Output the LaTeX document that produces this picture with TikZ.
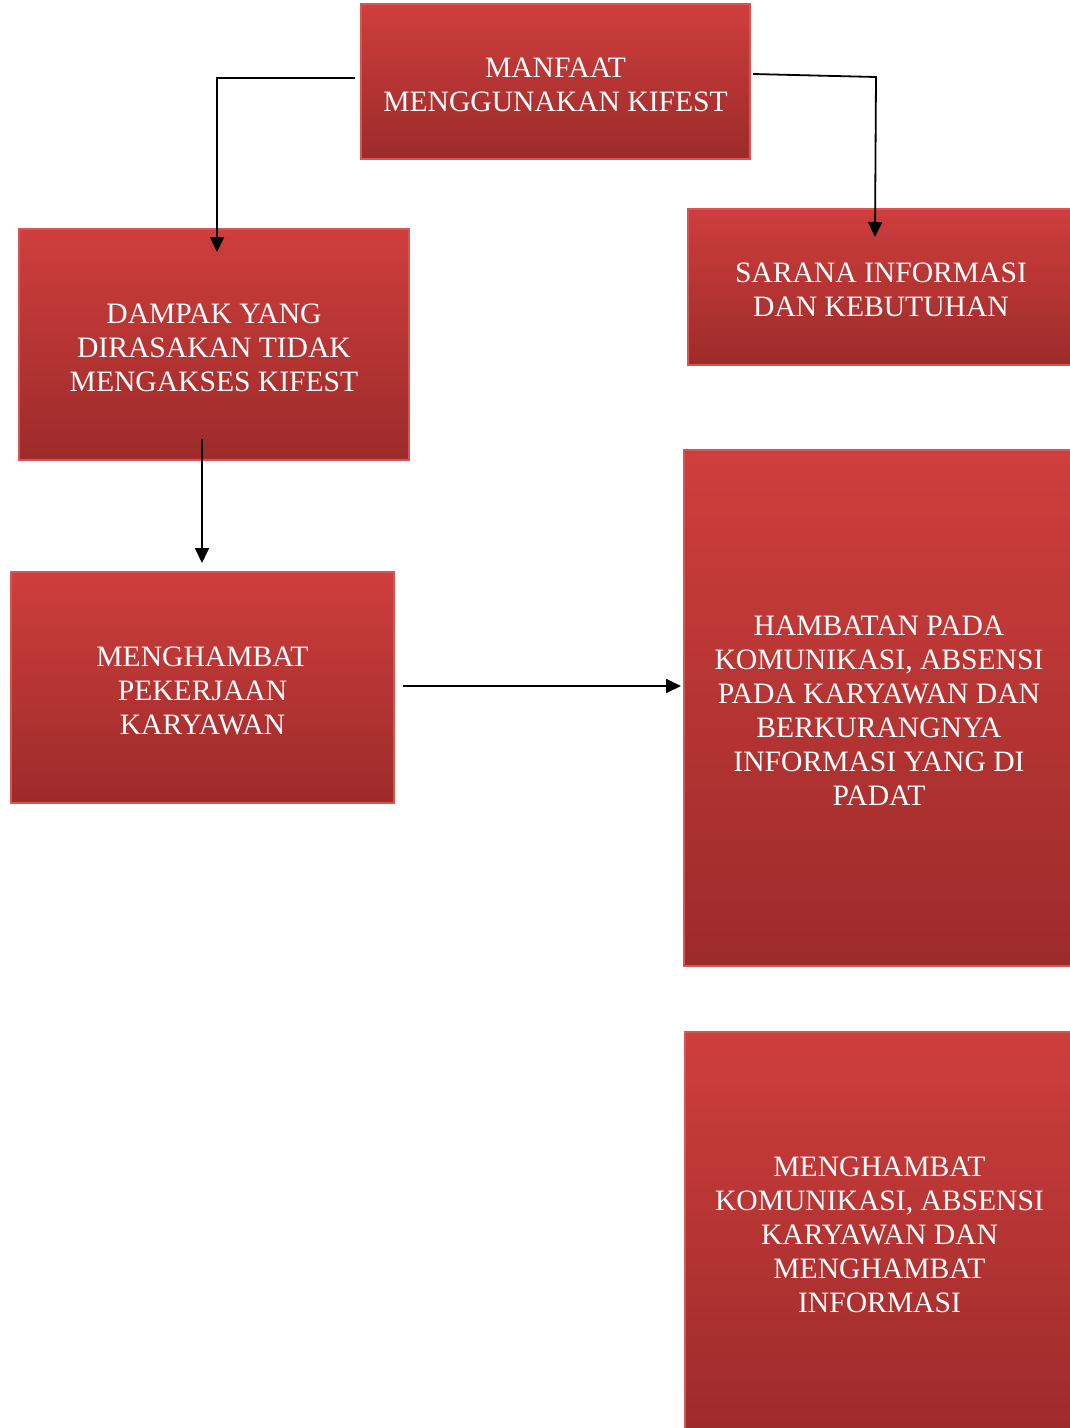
\documentclass[tikz,border=0pt]{standalone}
\usepackage{fontspec}
\setmainfont{Liberation Serif}
\usetikzlibrary{arrows.meta}
\definecolor{boxtop}{RGB}{206,62,60}
\definecolor{boxbot}{RGB}{156,43,42}
\definecolor{boxline}{RGB}{214,86,84}
\tikzset{
  redbox/.style={rectangle, inner sep=0pt, draw=boxline, line width=1.5pt,
    top color=boxtop, bottom color=boxbot, text=white, align=center,
    font=\fontsize{29.6}{34}\selectfont},
  conn/.style={line width=1.8pt, draw=black},
  arr/.style={conn, -{Triangle[length=15pt,width=14pt]}}
}
\begin{document}
\begin{tikzpicture}[x=1pt,y=-1pt]
\useasboundingbox (0,0) rectangle (1069,1428);
\fill[white] (0,0) rectangle (1069,1428);
\node[redbox, minimum width=389pt, minimum height=155pt] (n1) at (555.5,81.5) {\rule{0pt}{26pt}MANFAAT\\MENGGUNAKAN KIFEST};
\node[redbox, minimum width=390pt, minimum height=231pt] (n2) at (214,344.5) {\rule{0pt}{26pt}DAMPAK YANG\\DIRASAKAN TIDAK\\MENGAKSES KIFEST};
\node[redbox, minimum width=386pt, minimum height=156pt] (n3) at (881,287) {\rule{0pt}{26pt}SARANA INFORMASI\\DAN KEBUTUHAN};
\node[redbox, minimum width=383pt, minimum height=231pt] (n4) at (202.5,687.5) {\rule{0pt}{26pt}MENGHAMBAT\\PEKERJAAN\\KARYAWAN};
\node[redbox, minimum width=390pt, minimum height=516pt] (n5) at (879,708) {\rule{0pt}{26pt}HAMBATAN PADA\\KOMUNIKASI, ABSENSI\\PADA KARYAWAN DAN\\BERKURANGNYA\\INFORMASI YANG DI\\PADAT};
\node[redbox, minimum width=389pt, minimum height=400pt] (n6) at (879.5,1232) {\rule{0pt}{26pt}MENGHAMBAT\\KOMUNIKASI, ABSENSI\\KARYAWAN DAN\\MENGHAMBAT\\INFORMASI};
% connector endpoints
\coordinate (s1) at (355,78);
\coordinate (e1) at (217,252);
\coordinate (s2) at (753,74);
\coordinate (b2) at (876,77);
\coordinate (e2) at (875,237);
\coordinate (s3) at (202,439);
\coordinate (e3) at (202,563);
\coordinate (s4) at (403,686);
\coordinate (e4) at (681,686);
\draw[arr] (s1) -| (e1);
\draw[arr] (s2) -- (b2) -- (e2);
\draw[arr] (s3) -- (e3);
\draw[arr] (s4) -- (e4);
\end{tikzpicture}
\end{document}
